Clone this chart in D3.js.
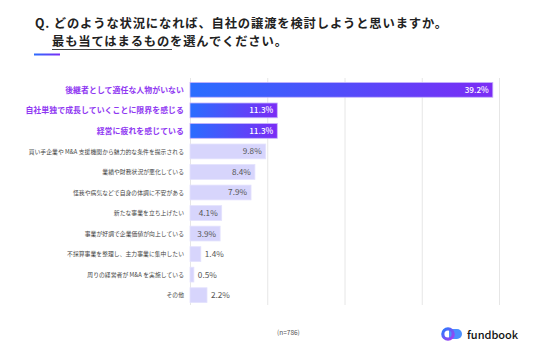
<!DOCTYPE html>
<html><head><meta charset="utf-8">
<script src="https://cdn.jsdelivr.net/npm/d3@7"></script>
<style>body{margin:0;background:#fff}svg{display:block}text{font-family:"Noto Sans CJK JP","Noto Sans",sans-serif}</style>
</head><body>
<svg id="c" width="536" height="357"></svg>
<script>
const categories = [
  "後継者として適任な人物がいない",
  "自社単独で成長していくことに限界を感じる",
  "経営に疲れを感じている",
  "買い手企業や M&A 支援機関から魅力的な条件を提示される",
  "業績や財務状況が悪化している",
  "怪我や病気などで自身の体調に不安がある",
  "新たな事業を立ち上げたい",
  "事業が好調で企業価値が向上している",
  "不採算事業を整理し、主力事業に集中したい",
  "周りの経営者が M&A を実施している",
  "その他"
];
const values = [39.2, 11.3, 11.3, 9.8, 8.4, 7.9, 4.1, 3.9, 1.4, 0.5, 2.2];
const highlighted = [true, true, true, false, false, false, false, false, false, false, false];
const gridTicks = [0, 10, 20, 30, 40];
const titleLine1 = "Q. どのような状況になれば、自社の譲渡を検討しようと思いますか。";
const titleLine2a = "最も当てはまるもの";
const titleLine2b = "を選んでください。";
const note = "(n=786)";

const svg = d3.select("#c");
const defs = svg.append("defs");
const g1 = defs.append("linearGradient").attr("id","barGrad").attr("x1","0").attr("x2","1").attr("y1","0").attr("y2","0");
g1.append("stop").attr("offset","0%").attr("stop-color","#2a6dff");
g1.append("stop").attr("offset","100%").attr("stop-color","#7b2cf5");
const g2 = defs.append("linearGradient").attr("id","logoGrad").attr("x1","0").attr("x2","1").attr("y1","0").attr("y2","1");
g2.append("stop").attr("offset","0%").attr("stop-color","#2a7bff");
g2.append("stop").attr("offset","100%").attr("stop-color","#a83cf0");

const x = d3.scaleLinear().domain([0, 40]).range([190, 499]);
const y = d3.scaleBand().domain(categories).range([80, 305]).paddingInner(0.28).paddingOuter(0.12);

// title
svg.append("text").attr("x",35).attr("y",28).attr("font-size",12.3).attr("font-weight",700)
  .attr("letter-spacing",0.85).attr("fill","#222").text(titleLine1);
const t2 = svg.append("text").attr("x",52).attr("y",46).attr("font-size",12.3).attr("font-weight",700)
  .attr("letter-spacing",0.85).attr("fill","#222");
t2.append("tspan").text(titleLine2a);
t2.append("tspan").text(titleLine2b);
svg.append("line").attr("x1",52).attr("x2",172).attr("y1",49.5).attr("y2",49.5).attr("stroke","#444").attr("stroke-width",1);
svg.append("rect").attr("x",34).attr("y",53.5).attr("width",26).attr("height",2).attr("fill","url(#barGrad)");

// grid
svg.append("g").selectAll("line").data(gridTicks).join("line")
  .attr("x1",d=>x(d)+0.5).attr("x2",d=>x(d)+0.5).attr("y1",78).attr("y2",305)
  .attr("stroke","#e6e6e6").attr("stroke-width",1);

// bars
svg.append("g").selectAll("rect").data(categories).join("rect")
  .attr("x",x(0)).attr("y",d=>y(d)).attr("width",(d,i)=>x(values[i])-x(0)).attr("height",y.bandwidth())
  .attr("fill",(d,i)=>highlighted[i]?"url(#barGrad)":"#d7d5fc")
  .attr("stroke",(d,i)=>highlighted[i]?"#c8b4fb":"#e3e1fd").attr("stroke-width",0.8);

// category labels
svg.append("g").selectAll("text").data(categories).join("text")
  .attr("x",184).attr("y",d=>y(d)+y.bandwidth()/2).attr("dy","0.36em").attr("text-anchor","end")
  .attr("font-size",(d,i)=>highlighted[i]?7.9:5.8)
  .attr("font-weight",(d,i)=>highlighted[i]?700:400)
  .attr("letter-spacing",(d,i)=>highlighted[i]?0.05:0.05)
  .attr("fill",(d,i)=>highlighted[i]?"#8f38f2":"#444")
  .text(d=>d);

// value labels
svg.append("g").selectAll("text").data(categories).join("text")
  .attr("x",(d,i)=>values[i]>3? x(values[i])-4 : x(values[i])+4)
  .attr("y",d=>y(d)+y.bandwidth()/2).attr("dy","0.36em")
  .attr("text-anchor",(d,i)=>values[i]>3?"end":"start")
  .attr("font-size",8.2).attr("font-weight",(d,i)=>highlighted[i]?500:400)
  .attr("font-family","Roboto, sans-serif")
  .attr("fill",(d,i)=>highlighted[i]?"#fff":"#555")
  .text((d,i)=>values[i].toFixed(1)+"%");

// note
svg.append("text").attr("x",277).attr("y",335).attr("font-size",6.5).attr("fill","#555").text(note);

// logo
svg.append("path").attr("d","M449,329 L457,329 A5,5 0 0 1 457,339 L449,339 Z").attr("fill","#2a7bff").attr("opacity",0.85);
svg.append("circle").attr("cx",448).attr("cy",334).attr("r",5.2).attr("fill","none").attr("stroke","url(#logoGrad)").attr("stroke-width",3.2);
svg.append("text").attr("x",467).attr("y",338.5).attr("font-size",11).attr("font-weight",500)
  .attr("font-family","Inter, sans-serif").attr("fill","#111").text("fundbook");
</script>
</body></html>
